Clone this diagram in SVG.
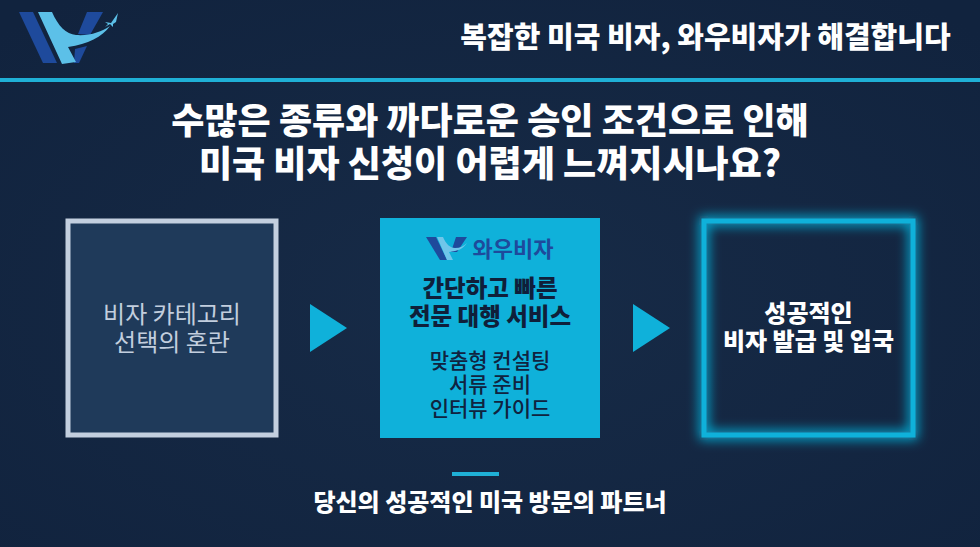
<svg xmlns="http://www.w3.org/2000/svg" width="980" height="547" viewBox="0 0 980 547">
<defs>
<style>
text{font-family:"Noto Sans CJK KR","Noto Sans",sans-serif;text-anchor:middle}
.w{fill:#fff;font-weight:900}
.d{fill:#0f1f3a;font-weight:900;font-size:23.5px}
.m{fill:#10233f;font-weight:500;font-size:21px}
.g{fill:#c2cede;font-weight:400;font-size:24px}
.a{fill:#0fb1da}
.navy{fill:#1e4a9c}
.sky{fill:#5cc0e8}
</style>
<filter id="glow" x="-20%" y="-20%" width="140%" height="140%"><feGaussianBlur stdDeviation="6"/></filter>
<radialGradient id="bg" cx="50%" cy="55%" r="70%"><stop offset="0" stop-color="#172b47"/><stop offset="1" stop-color="#11233e"/></radialGradient>
</defs>
<rect width="980" height="547" fill="url(#bg)"/>
<g id="logo">
<path class="navy" d="M19 12H33L57 63H43Z"/>
<path class="navy" d="M87 12H103L90 35L78 34Z"/>
<path class="navy" d="M75 49L87 46L79 63H74Z"/>
<path class="sky" d="M38 12H52C58 26 66 34 76 35C90 36 101 32 110 26C102 37 88 44 68 47L76 62L62 64Z"/>
<path class="sky" d="M105 22L111 23L118 13L116 22L113 24L113 27L110 24L105 27L108 24Z"/>
</g>
<g id="header">
<text x="705.500" y="48" class="w" font-size="29">복잡한 미국 비자, 와우비자가 해결합니다</text>
<rect x="0" y="78" width="980" height="4" fill="#1fb0d6"/>
</g>
<g id="title">
<text x="490" y="134" class="w" font-size="36">수많은 종류와 까다로운 승인 조건으로 인해</text>
<text x="490" y="177" class="w" font-size="36">미국 비자 신청이 어렵게 느껴지시나요?</text>
</g>
<g id="node-confusion">
<rect x="68" y="221" width="208" height="214" fill="#1f3a5a" stroke="#c3cfdf" stroke-width="5"/>
<text x="172" y="323" class="g">비자 카테고리</text>
<text x="172" y="351" class="g">선택의 혼란</text>
</g>
<g id="node-service">
<rect x="380" y="218" width="220" height="220" fill="#0fb1da"/>
<path class="navy" d="M426 237H436L447 260H440Z"/>
<path class="navy" d="M456 237H467L457 252L451 252Z"/>
<path d="M437 237H443C446 244 450 248 455 248C460 248 464 246 467 243C463 249 458 251 449 252L453 260H447Z" fill="#6fc6ea"/>
<text x="513" y="257" font-size="22" font-weight="700" fill="#1e4a9c">와우비자</text>
<text x="490" y="297" class="d">간단하고 빠른</text>
<text x="490" y="325" class="d">전문 대행 서비스</text>
<text x="490" y="368" class="m">맞춤형 컨설팅</text>
<text x="490" y="392" class="m">서류 준비</text>
<text x="490" y="416" class="m">인터뷰 가이드</text>
</g>
<g id="node-success">
<rect x="704" y="221" width="209" height="214" fill="none" stroke="#0fb1da" stroke-width="9" filter="url(#glow)"/>
<rect x="704" y="221" width="209" height="214" fill="none" stroke="#0fb1da" stroke-width="5"/>
<text x="808.500" y="322" class="w" font-size="24">성공적인</text>
<text x="808.500" y="350" class="w" font-size="24">비자 발급 및 입국</text>
</g>
<g id="connectors">
<path class="a" d="M310 304L347 328L310 352Z"/>
<path class="a" d="M633 304L670 328L633 352Z"/>
</g>
<g id="footer">
<rect x="452" y="472" width="47" height="4" fill="#1fb0d6"/>
<text x="490" y="511" class="w" font-size="24">당신의 성공적인 미국 방문의 파트너</text>
</g>
</svg>
